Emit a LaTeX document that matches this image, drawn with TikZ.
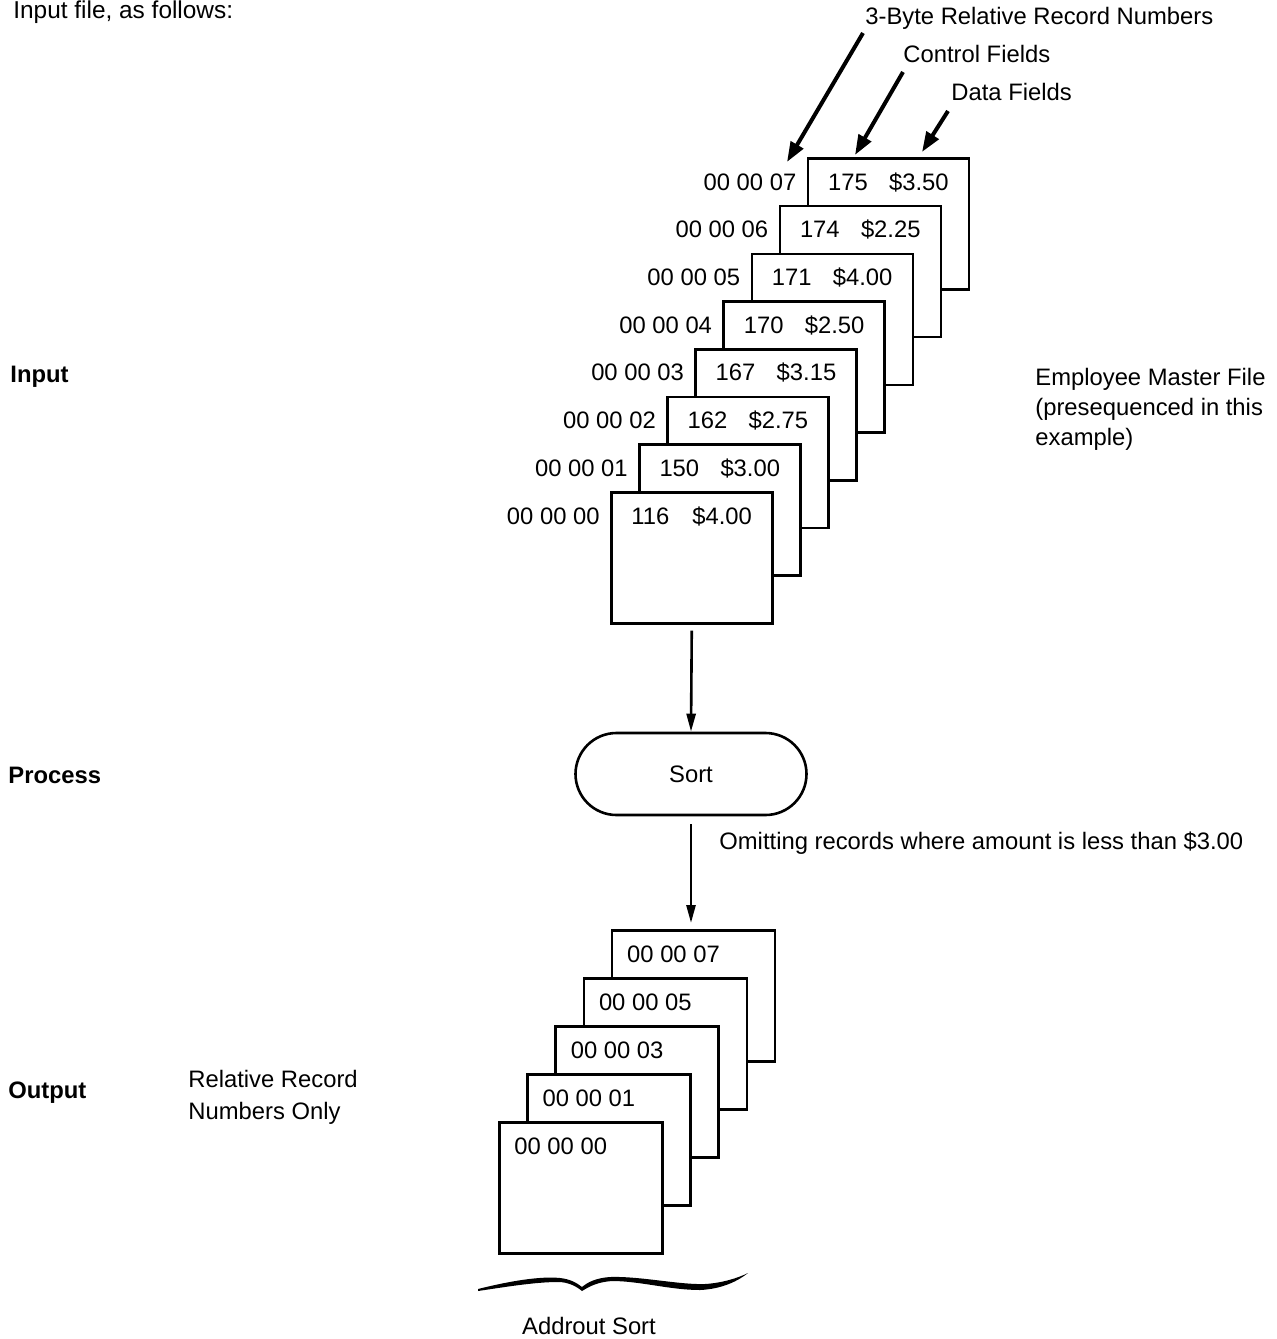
\documentclass[tikz,border=0pt]{standalone}
\usepackage{fontspec}
\setmainfont{Liberation Sans}
\usetikzlibrary{arrows.meta}
\begin{document}
\begin{tikzpicture}[x=0.5pt,y=-0.5pt,
  txt/.style={font=\fontsize{11.9}{15.5}\selectfont, inner sep=0pt},
  bold/.style={font=\fontsize{11.9}{15.5}\selectfont\bfseries, inner sep=0pt},
  card/.style={draw, line width=1.3pt, fill=white, minimum width=80.5pt, minimum height=65.5pt, anchor=north west, inner sep=0pt},
  ocard/.style={draw, line width=1.3pt, fill=white, minimum width=81.5pt, minimum height=65.5pt, anchor=north west, inner sep=0pt},
  flow/.style={line width=1.3pt, -{Triangle[length=9pt,width=4.5pt]}},
  pointer/.style={line width=2pt, -{Triangle[length=10pt,width=7pt]}}]
\useasboundingbox (0,0) rectangle (1276,1339);
\clip (0,0) rectangle (1276,1339);

% heading line (partly cut in the source; kept fully visible here)
\node[txt, anchor=base west, font=\fontsize{12.2}{15}\selectfont] (head) at (13,18) {Input file, as follows:};

% side labels
\node[bold, anchor=base west] (linput) at (10,382) {Input};
\node[bold, anchor=base west] (lprocess) at (8,783) {Process};
\node[bold, anchor=base west] (loutput) at (8,1098) {Output};

% input cards
\foreach \k/\c/\a in {7/175/\$3.50, 6/174/\$2.25, 5/171/\$4.00, 4/170/\$2.50, 3/167/\$3.15, 2/162/\$2.75, 1/150/\$3.00, 0/116/\$4.00} {
  \pgfmathsetmacro\L{610+28.1*\k}
  \pgfmathsetmacro\T{491-47.7*\k}
  \node[card] (in\k) at (\L,\T) {};
  \node[txt, anchor=base east] (inl\k) at (\L-10,\T+33) {00 00 0\k};
  \node[txt, anchor=base west] (inc\k) at (\L+21,\T+33) {\c};
  \node[txt, anchor=base west] (ina\k) at (\L+82,\T+33) {\a};
}

% field labels and pointers
\node[txt, anchor=base west] (lbyte) at (865,24) {3-Byte Relative Record Numbers};
\node[txt, anchor=base west] (lctrl) at (903,62) {Control Fields};
\node[txt, anchor=base west] (ldata) at (951,100) {Data Fields};
\coordinate (pbs) at (863,33);
\coordinate (pbe) at (787,162);
\coordinate (pcs) at (903,72);
\coordinate (pce) at (855,155);
\coordinate (pds) at (948,111);
\coordinate (pde) at (922,152);
\draw[pointer] (pbs) -- (pbe);
\draw[pointer] (pcs) -- (pce);
\draw[pointer] (pds) -- (pde);

\node[txt, font=\fontsize{11.9}{15}\selectfont, anchor=base west, align=left] (emp) at (1035,445) {Employee Master File\\(presequenced in this\\example)};

% process
\node[txt, draw, line width=1.3pt, rounded corners=20.5pt, minimum width=115.5pt, minimum height=41pt] (sort) at (691,774) {Sort};
\draw[flow, shorten <=3pt] (in0.south) -- (sort.north);

% output cards
\foreach \k/\n in {4/7, 3/5, 2/3, 1/1, 0/0} {
  \pgfmathsetmacro\L{498+28.2*\k}
  \pgfmathsetmacro\T{1121-48*\k}
  \node[ocard] (out\k) at (\L,\T) {};
  \node[txt, anchor=base west] (outl\k) at (\L+16,\T+33) {00 00 0\n};
}
\draw[flow, shorten <=4pt, shorten >=3pt] (sort.south) -- (sort.south |- out4.north);
\node[txt, anchor=base west] (omit) at (719,849) {Omitting records where amount is less than \$3.00};

\node[txt, font=\fontsize{11.9}{16}\selectfont, anchor=base west, align=left] (rrn) at (188,1119) {Relative Record\\Numbers Only};

% brace
\fill (478,1289) .. controls (510,1281) and (540,1276) .. (560,1278)
  .. controls (570,1279) and (577,1283) .. (582,1287)
  .. controls (588,1282) and (596,1278) .. (610,1277)
  .. controls (640,1276) and (680,1285) .. (705,1284)
  .. controls (722,1283) and (738,1278) .. (748,1273)
  .. controls (738,1281) and (722,1289) .. (700,1290)
  .. controls (670,1290) and (640,1281) .. (612,1281)
  .. controls (598,1282) and (590,1286) .. (582,1291)
  .. controls (576,1286) and (568,1282) .. (558,1282)
  .. controls (535,1282) and (505,1287) .. (478,1291) -- cycle;
\node[txt, anchor=base] (addrout) at (589,1334) {Addrout Sort};
\end{tikzpicture}
\end{document}
